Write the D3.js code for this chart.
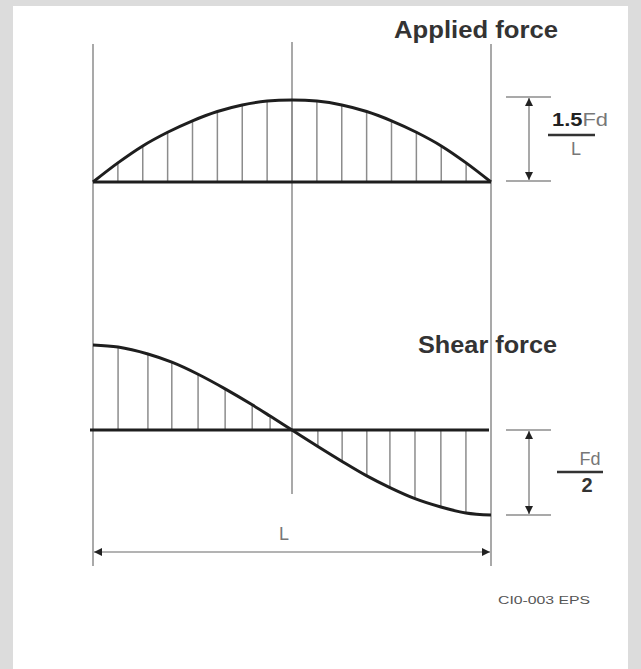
<!DOCTYPE html>
<html>
<head>
<meta charset="utf-8">
<script src="https://cdn.jsdelivr.net/npm/d3@7"></script>
<style>
  html, body { margin: 0; padding: 0; background: #dcdcdc; }
  svg { display: block; }
  text { font-family: 'Liberation Sans', Arial, sans-serif; }
</style>
</head>
<body>
<svg width="641" height="669"></svg>
<script>
// positions along the beam, as a fraction of L
const appliedX = [0, 0.0625, 0.125, 0.1875, 0.25, 0.3125, 0.375, 0.4375, 0.5,
  0.5625, 0.625, 0.6875, 0.75, 0.8125, 0.875, 0.9375, 1];
// applied load, in units of Fd / L
const appliedQ = [0, 0.35, 0.66, 0.91, 1.12, 1.29, 1.41, 1.48, 1.5,
  1.48, 1.41, 1.29, 1.12, 0.91, 0.66, 0.35, 0];

const shearX = [0, 0.063, 0.138, 0.198, 0.264, 0.332, 0.4, 0.445, 0.5,
  0.565, 0.626, 0.688, 0.746, 0.809, 0.874, 0.937, 1];
// shear force, in units of Fd
const shearV = [0.5, 0.488, 0.447, 0.399, 0.328, 0.242, 0.148, 0.082, 0,
  -0.097, -0.185, -0.27, -0.339, -0.404, -0.453, -0.488, -0.5];

const titles = ['Applied force', 'Shear force'];
const spanLabel = 'L';
const stamp = 'CI0-003 EPS';

const svg = d3.select('svg');

svg.append('rect')
  .attr('x', 13).attr('y', 6)
  .attr('width', 615).attr('height', 669)
  .attr('fill', '#fff');

const x = d3.scaleLinear().domain([0, 1]).range([93, 491]);
const yA = d3.scaleLinear().domain([0, 1.5]).range([182, 100]);
const yS = d3.scaleLinear().domain([-0.5, 0.5]).range([515, 345]);

const defs = svg.append('defs');
defs.append('marker')
  .attr('id', 'arrow')
  .attr('viewBox', '0 0 10 10')
  .attr('refX', 10).attr('refY', 5)
  .attr('markerWidth', 12).attr('markerHeight', 8)
  .attr('markerUnits', 'userSpaceOnUse')
  .attr('orient', 'auto-start-reverse')
  .append('path')
  .attr('d', 'M0,0L10,5L0,10Z')
  .attr('fill', '#222');

const gray = '#8c8c8c';
const ink = '#1e1e1e';

// guide verticals: supports and mid-span
svg.append('g')
  .selectAll('line')
  .data([[0, 44, 566], [0.5, 42, 494], [1, 44, 566]])
  .enter()
  .append('line')
  .attr('x1', d => x(d[0])).attr('x2', d => x(d[0]))
  .attr('y1', d => d[1]).attr('y2', d => d[2])
  .attr('stroke', gray)
  .attr('stroke-width', 1.5);

// applied force diagram
const aIdx = d3.range(1, appliedX.length - 1);
svg.append('g')
  .selectAll('line')
  .data(aIdx)
  .enter()
  .append('line')
  .attr('x1', i => x(appliedX[i])).attr('x2', i => x(appliedX[i]))
  .attr('y1', yA(0)).attr('y2', i => yA(appliedQ[i]))
  .attr('stroke', gray)
  .attr('stroke-width', 1.5);

svg.append('line')
  .attr('x1', x(0)).attr('x2', x(1))
  .attr('y1', yA(0)).attr('y2', yA(0))
  .attr('stroke', ink)
  .attr('stroke-width', 3);

svg.append('path')
  .datum(d3.zip(appliedX, appliedQ))
  .attr('d', d3.line().x(d => x(d[0])).y(d => yA(d[1])).curve(d3.curveCatmullRom))
  .attr('fill', 'none')
  .attr('stroke', ink)
  .attr('stroke-width', 3);

// shear force diagram
const sIdx = d3.range(1, shearX.length - 1);
svg.append('g')
  .selectAll('line')
  .data(sIdx)
  .enter()
  .append('line')
  .attr('x1', i => x(shearX[i])).attr('x2', i => x(shearX[i]))
  .attr('y1', yS(0)).attr('y2', i => yS(shearV[i]))
  .attr('stroke', gray)
  .attr('stroke-width', 1.5);

svg.append('line')
  .attr('x1', x(0) - 3).attr('x2', x(1) - 2)
  .attr('y1', yS(0)).attr('y2', yS(0))
  .attr('stroke', ink)
  .attr('stroke-width', 3);

svg.append('path')
  .datum(d3.zip(shearX, shearV))
  .attr('d', d3.line().x(d => x(d[0])).y(d => yS(d[1])).curve(d3.curveMonotoneX))
  .attr('fill', 'none')
  .attr('stroke', ink)
  .attr('stroke-width', 3);

// titles
svg.selectAll('text.title')
  .data([[titles[0], 394, 38, 164], [titles[1], 418, 353, 139]])
  .enter()
  .append('text')
  .attr('class', 'title')
  .attr('x', d => d[1]).attr('y', d => d[2])
  .attr('textLength', d => d[3])
  .attr('lengthAdjust', 'spacingAndGlyphs')
  .style('font-size', '24px')
  .style('font-weight', 'bold')
  .attr('fill', '#333')
  .text(d => d[0]);

// dimension markers on the right
function dimension(top, bottom) {
  const g = svg.append('g');
  g.selectAll('line.tick')
    .data([top, bottom])
    .enter()
    .append('line')
    .attr('x1', 506).attr('x2', 551)
    .attr('y1', d => d).attr('y2', d => d)
    .attr('stroke', gray)
    .attr('stroke-width', 1.5);
  g.append('line')
    .attr('x1', 529).attr('x2', 529)
    .attr('y1', top + 1).attr('y2', bottom - 1)
    .attr('stroke', gray)
    .attr('stroke-width', 1.5)
    .attr('marker-start', 'url(#arrow)')
    .attr('marker-end', 'url(#arrow)');
  return g;
}

dimension(yA(1.5) - 3, yA(0) - 1);
dimension(yS(0), yS(-0.5));

// 1.5Fd / L
const f1 = svg.append('text')
  .attr('x', 552).attr('y', 126)
  .attr('textLength', 56)
  .attr('lengthAdjust', 'spacingAndGlyphs')
  .style('font-size', '19px');
f1.append('tspan').attr('fill', '#222').style('font-weight', 'bold').text('1.5');
f1.append('tspan').attr('fill', '#777').text('Fd');
svg.append('line')
  .attr('x1', 548).attr('x2', 595).attr('y1', 135).attr('y2', 135)
  .attr('stroke', '#333').attr('stroke-width', 2.5);
svg.append('text')
  .attr('x', 576).attr('y', 155)
  .attr('text-anchor', 'middle')
  .attr('fill', '#777')
  .style('font-size', '18px')
  .text(spanLabel);

// Fd / 2
svg.append('text')
  .attr('x', 590).attr('y', 465)
  .attr('text-anchor', 'middle')
  .attr('fill', '#777')
  .style('font-size', '18px')
  .text('Fd');
svg.append('line')
  .attr('x1', 557).attr('x2', 603).attr('y1', 472).attr('y2', 472)
  .attr('stroke', '#333').attr('stroke-width', 2.5);
svg.append('text')
  .attr('x', 587).attr('y', 492)
  .attr('text-anchor', 'middle')
  .attr('fill', '#333')
  .style('font-size', '20px')
  .style('font-weight', 'bold')
  .text('2');

// span dimension L
svg.append('line')
  .attr('x1', x(0) + 1).attr('x2', x(1) - 1)
  .attr('y1', 552).attr('y2', 552)
  .attr('stroke', '#9a9a9a')
  .attr('stroke-width', 1.5)
  .attr('marker-start', 'url(#arrow)')
  .attr('marker-end', 'url(#arrow)');
svg.append('text')
  .attr('x', 284).attr('y', 540)
  .attr('text-anchor', 'middle')
  .attr('fill', '#777')
  .style('font-size', '18px')
  .text(spanLabel);

svg.append('text')
  .attr('x', 498).attr('y', 604)
  .attr('textLength', 92)
  .attr('lengthAdjust', 'spacingAndGlyphs')
  .attr('fill', '#555')
  .style('font-size', '10px')
  .text(stamp);
</script>
</body>
</html>
